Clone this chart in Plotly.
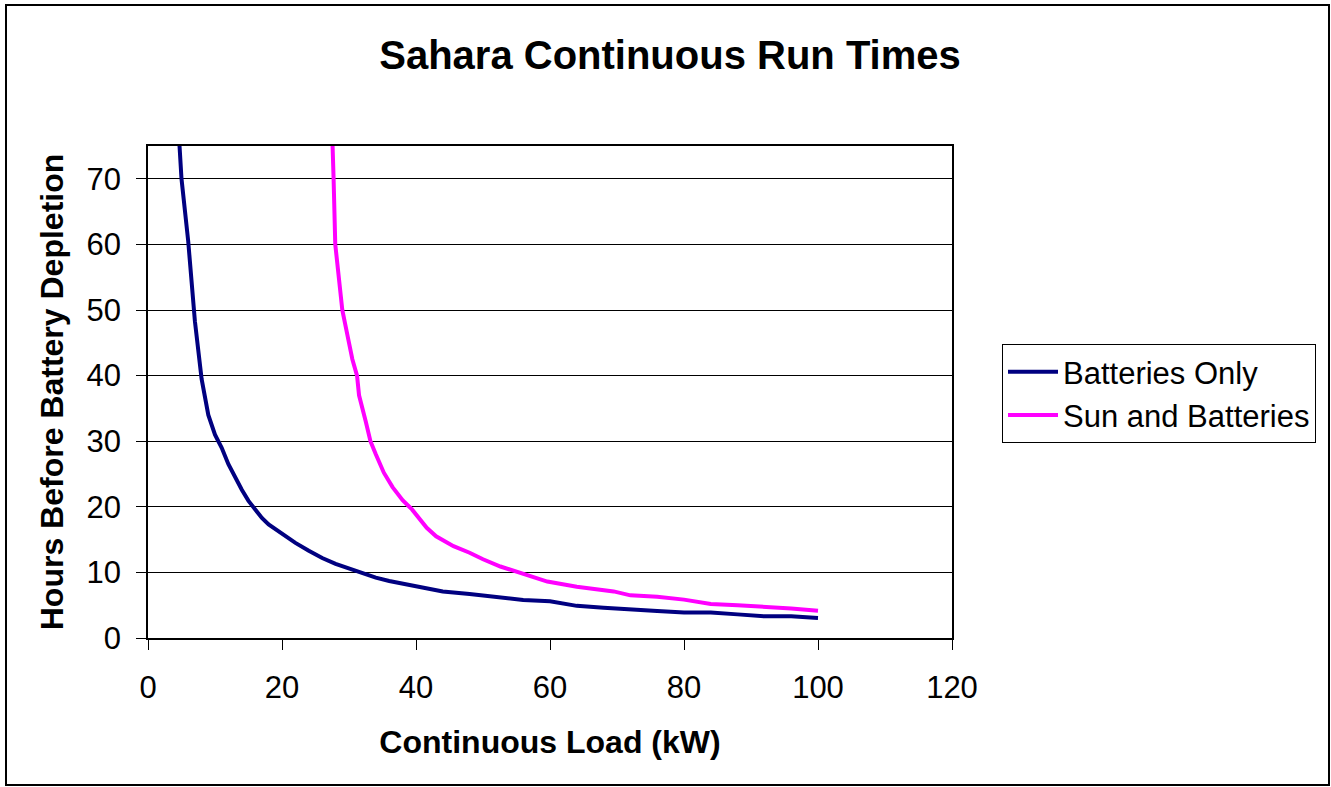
import plotly.graph_objects as go

# ---- data ----
batt_load = [4, 5, 6, 7, 8, 9, 10, 11, 12, 13, 14, 15, 16, 17, 18, 20, 22, 24, 26, 28,
             30, 32, 34, 36, 38, 40, 44, 48, 52, 56, 60, 64, 68, 72, 76, 80, 84, 88,
             92, 96, 100]
batt_hours = [87, 70, 60.5, 48.3, 39.5, 34, 31, 29, 26.5, 24.5, 22.6, 20.9, 19.5, 18.3,
              17.3, 15.9, 14.5, 13.3, 12.2, 11.3, 10.6, 10, 9.2, 8.7, 8.3, 8.0, 7.1,
              6.7, 6.3, 5.8, 5.6, 4.9, 4.6, 4.3, 4.1, 3.9, 3.9, 3.6, 3.3, 3.3, 3.05]

sun_load = [27.4, 27.6, 27.7, 27.95, 28.5, 29, 30, 30.5, 31.2, 31.5, 32.5, 33.2, 34,
            35.2, 36.5, 38, 39.4, 41.6, 43, 45.6, 48, 50, 52.6, 56, 59.6, 64,
            69.5, 72, 76, 80, 84, 88, 92.4, 96, 100]
sun_hours = [80, 75, 70, 60, 54, 50, 45, 42.5, 40, 37, 33, 30, 28, 25.2, 23, 21, 19.6,
             16.8, 15.5, 14, 13, 12, 10.9, 9.8, 8.6, 7.8, 7.1, 6.5, 6.3, 5.85,
             5.2, 5.0, 4.75, 4.5, 4.15]

series_names = ["Batteries Only", "Sun and Batteries"]
series_colors = ["#000080", "#FF00FF"]

title_text = "Sahara Continuous Run Times"
x_title = "Continuous Load (kW)"
y_title = "Hours Before Battery Depletion"
x_ticks = [0, 20, 40, 60, 80, 100, 120]
y_ticks = [0, 10, 20, 30, 40, 50, 60, 70]

FONT = "Liberation Sans, Arial, sans-serif"

fig = go.Figure()
for xs, ys, name, col in [(batt_load, batt_hours, series_names[0], series_colors[0]),
                          (sun_load, sun_hours, series_names[1], series_colors[1])]:
    fig.add_trace(go.Scatter(x=xs, y=ys, mode="lines", name=name, legendgroup=name,
                             line=dict(color=col, width=4)))

# plot area geometry (pixels)
L, R, T, B = 148, 952, 146, 638
W, H = 1331, 787
pw, ph = R - L, B - T

def px_x(p):
    return (p - L) / pw

def px_y(p):
    return (B - p) / ph

fig.update_layout(
    width=W, height=H,
    margin=dict(l=L, r=W - R, t=T, b=H - B, pad=0),
    paper_bgcolor="white", plot_bgcolor="white",
    font=dict(family=FONT, color="black", size=31),
    title=dict(text="<b>" + title_text + "</b>", font=dict(size=40, family=FONT),
               x=670 / W, xanchor="center", y=1 - 55 / H, yanchor="middle",
               xref="container", yref="container"),
    showlegend=True,
    legend=dict(x=px_x(1002), y=px_y(344), xanchor="left", yanchor="top",
                bordercolor="black", borderwidth=1, bgcolor="white",
                font=dict(size=31, family=FONT), tracegroupgap=0,
                itemwidth=50),
    xaxis=dict(range=[0, 120], tickvals=x_ticks, ticks="outside", ticklen=10,
               tickcolor="black", showline=True, linecolor="black", linewidth=1.5,
               mirror=True, showgrid=False, zeroline=False,
               tickfont=dict(size=31), ticklabelstandoff=11,
               title=dict(text="<b>" + x_title + "</b>", font=dict(size=32),
                          standoff=27)),
    yaxis=dict(range=[0, 75], tickvals=y_ticks, ticks="outside", ticklen=10,
               tickcolor="black", showline=True, linecolor="black", linewidth=1.5,
               mirror=True, showgrid=True, gridcolor="black", gridwidth=1,
               zeroline=False, tickfont=dict(size=31), ticklabelstandoff=9,
               title=dict(text="<b>" + y_title + "</b>", font=dict(size=32),
                          standoff=13)),
    shapes=[dict(type="rect", xref="paper", yref="paper",
                 x0=px_x(6), x1=px_x(1329), y0=px_y(785), y1=px_y(5),
                 line=dict(color="black", width=2), fillcolor="rgba(0,0,0,0)",
                 layer="below")],
)

fig.write_html("out.html", config={"displayModeBar": False},
               post_script="document.body.style.margin='0';document.body.style.overflow='hidden';")
